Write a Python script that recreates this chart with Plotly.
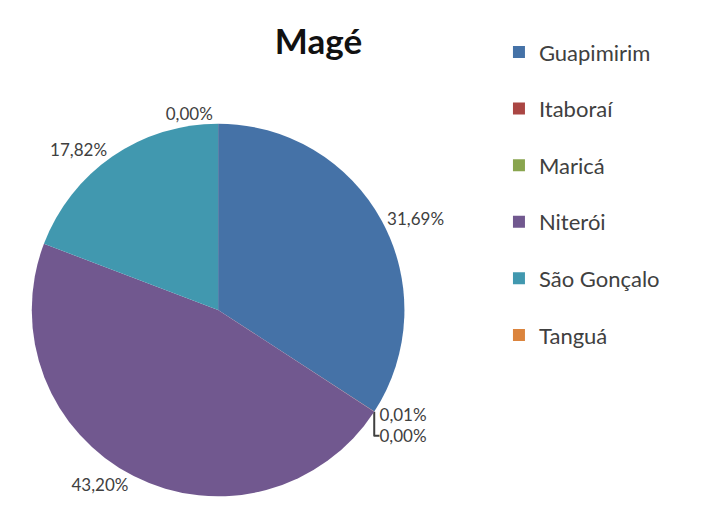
import plotly.graph_objects as go

# Dados
municipios = ['Guapimirim', 'Itaboraí', 'Maricá', 'Niterói', 'São Gonçalo', 'Tanguá']
percentuais = [31.69, 0.01, 0.003, 43.20, 17.82, 0.003]
cores = ['#4572A7', '#AA4643', '#89A54E', '#71588F', '#4198AF', '#DB843D']

rotulos = [f'{v:.2f}%'.replace('.', ',') for v in percentuais]

fig = go.Figure()

fig.add_trace(go.Pie(
    labels=municipios,
    values=percentuais,
    text=rotulos,
    texttemplate='%{text}',
    textposition='outside',
    textfont=dict(family='Lato', size=17, color='#404040'),
    marker=dict(colors=cores),
    sort=False,
    direction='clockwise',
    rotation=0,
    showlegend=False,
    domain=dict(x=[0.028, 0.554], y=[0.05, 0.775]),
))

# Legenda com espaçamento maior
for nome, cor in zip(municipios, cores):
    fig.add_trace(go.Scatter(
        x=[None], y=[None],
        mode='markers',
        name=nome,
        legendgroup=nome,
        marker=dict(symbol='square', size=12, color=cor),
    ))

fig.update_layout(
    width=722, height=514,
    margin=dict(l=0, r=0, t=0, b=0),
    paper_bgcolor='white',
    plot_bgcolor='white',
    title=dict(text='<b>Magé</b>', x=0.43, xanchor='center', y=0.935, yanchor='middle',
               font=dict(family='Lato', size=35, color='#111111')),
    xaxis=dict(visible=False),
    yaxis=dict(visible=False),
    legend=dict(x=0.68, y=0.955, xanchor='left', yanchor='top',
                font=dict(family='Lato', size=22, color='#404040'),
                tracegroupgap=25, itemclick=False),
)

fig.write_html('out.html')
